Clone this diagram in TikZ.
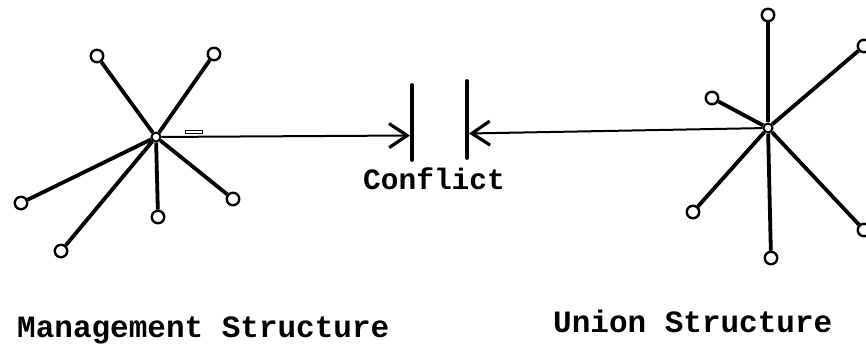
\documentclass[tikz,border=0pt]{standalone}
\usepackage{fontspec}
\setmonofont{Liberation Mono}
\usetikzlibrary{arrows.meta}
\begin{document}
\begin{tikzpicture}[x=1pt,y=-1pt,
  spoke/.style={line width=3.8pt},
  leaf/.style={circle,draw,line width=2.4pt,fill=white,minimum size=12.5pt,inner sep=0pt},
  hubdot/.style={circle,draw,line width=2pt,fill=white,minimum size=9pt,inner sep=0pt},
  link/.style={line width=2pt},
  wall/.style={line width=3.8pt,line cap=round},
  barb/.style={-{Straight Barb[length=18pt,width=24pt,line width=3.2pt]}},
  lbl/.style={font=\ttfamily\bfseries\fontsize{31}{31}\selectfont,inner sep=0pt,anchor=base west}
]
\useasboundingbox (0,0) rectangle (866,347);
\clip (0,0) rectangle (866,347);

% management structure
\node[hubdot] (m0) at (156,137) {};
\node[leaf] (m1) at (97,56) {};
\node[leaf] (m2) at (214,54) {};
\node[leaf] (m3) at (21,203) {};
\node[leaf] (m4) at (61,251) {};
\node[leaf] (m5) at (158,217) {};
\node[leaf] (m6) at (233,199) {};
\foreach \k in {1,...,6} \draw[spoke] (m0) -- (m\k);
\node[draw,line width=1pt,minimum width=17pt,minimum height=3pt,inner sep=0pt] (mark) at (194,132.5) {};

% union structure
\node[hubdot] (u0) at (768,128) {};
\node[leaf] (u1) at (768,15) {};
\node[leaf] (u2) at (864,46) {};
\node[leaf] (u3) at (712,98) {};
\node[leaf] (u4) at (693,212) {};
\node[leaf] (u5) at (771,258) {};
\node[leaf] (u6) at (864,230) {};
\foreach \k in {1,...,6} \draw[spoke] (u0) -- (u\k);

% the two walls of the conflict
\coordinate (ltop) at (412,85);
\coordinate (lbot) at (412,160);
\coordinate (rtop) at (467,81);
\coordinate (rbot) at (467,158);
\draw[wall] (ltop) -- (lbot);
\draw[wall] (rtop) -- (rbot);
\coordinate (lhit) at (410,135.5);
\coordinate (rhit) at (469,133.5);
\draw[link,barb] (m0) -- (lhit);
\draw[link,barb] (u0) -- (rhit);

% captions
\node[lbl,font=\ttfamily\bfseries\fontsize{29.5}{29.5}\selectfont] (conf) at (363,190) {Conflict};
\node[lbl] (mgmt) at (17,337) {Management Structure};
\node[lbl] (union) at (553,332) {Union Structure};
\end{tikzpicture}
\end{document}
